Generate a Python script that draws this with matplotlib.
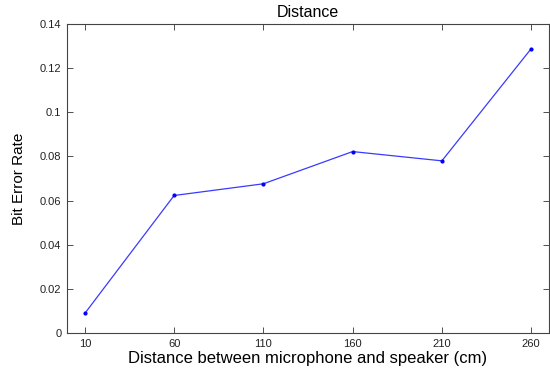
import numpy as np
import matplotlib
matplotlib.use("Agg")
import matplotlib.pyplot as plt

# data
distance = [10, 60, 110, 160, 210, 260]
ber = [0.0089, 0.0623, 0.0676, 0.0822, 0.0780, 0.1288]
x_ticks = [10, 60, 110, 160, 210, 260]
y_ticks = [0, 0.02, 0.04, 0.06, 0.08, 0.1, 0.12, 0.14]
y_tick_labels = ['0', '0.02', '0.04', '0.06', '0.08', '0.1', '0.12', '0.14']

plt.rcParams['font.family'] = ['Liberation Sans', 'DejaVu Sans']

fig = plt.figure(figsize=(5.5, 3.74), dpi=100)
ax = fig.add_axes([67 / 550, 1 - 333 / 374, 482 / 550, 309 / 374])

ax.plot(distance, ber, color='#3a3aff', linewidth=0.9, marker='.', markersize=4,
        markerfacecolor='#0000ff', markeredgecolor='#0000ff')

ax.set_xlim(0, 270)
ax.set_ylim(0, 0.14)
ax.set_xticks(x_ticks)
ax.set_yticks(y_ticks)
ax.set_yticklabels(y_tick_labels)

ax.tick_params(direction='in', top=True, right=True, labelsize=8, length=4,
               width=0.6, color='#333333', labelcolor='#222222', pad=4)
for s in ax.spines.values():
    s.set_color('#444444')
    s.set_linewidth(0.8)

ax.set_xlabel('Distance between microphone and speaker (cm)', fontsize=12, labelpad=2)
ax.set_ylabel('Bit Error Rate', fontsize=11, labelpad=10)
ax.set_title('Distance', fontsize=11.5, pad=5)

fig.savefig('out.png', dpi=100)
